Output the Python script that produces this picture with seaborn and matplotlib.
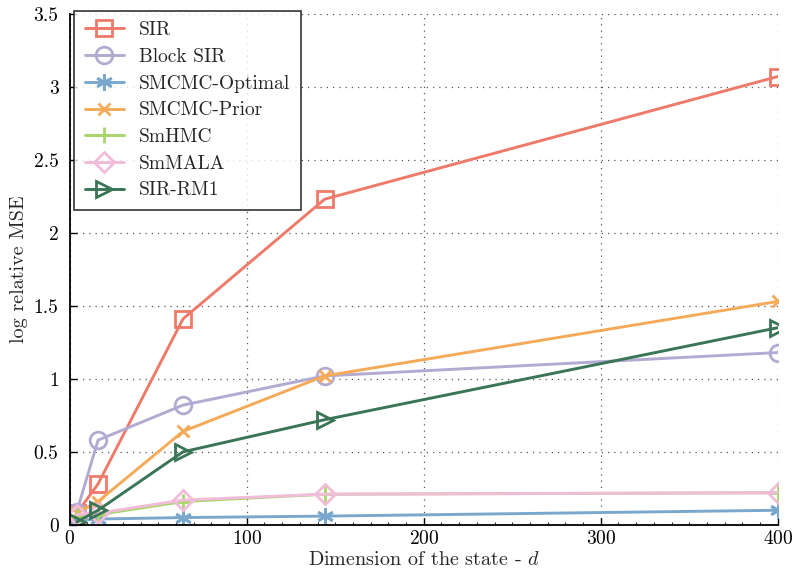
import matplotlib
matplotlib.use("Agg")
import matplotlib.pyplot as plt
import seaborn as sns
import numpy as np
from matplotlib.ticker import MultipleLocator

dims = [4, 16, 64, 144, 400]
sir = [0.08, 0.28, 1.41, 2.23, 3.07]
block_sir = [0.09, 0.58, 0.82, 1.02, 1.18]
smcmc_opt = [0.03, 0.04, 0.05, 0.06, 0.10]
smcmc_prior = [0.08, 0.16, 0.64, 1.02, 1.53]
smhmc = [0.06, 0.07, 0.16, 0.21, 0.22]
smmala = [0.07, 0.08, 0.17, 0.21, 0.22]
sir_rm1 = [0.02, 0.10, 0.50, 0.72, 1.35]

names = ["SIR", "Block SIR", "SMCMC-Optimal", "SMCMC-Prior", "SmHMC", "SmMALA", "SIR-RM1"]
series = [sir, block_sir, smcmc_opt, smcmc_prior, smhmc, smmala, sir_rm1]
colors = ["#f07a6a", "#b3aad2", "#7aa8cc", "#f5aa58", "#a8d46a", "#f0bcd9", "#3a7556"]
markers = ["s", "o", (6, 2, 0), "x", "+", "D", ">"]
msizes = [11, 12, 12, 9, 12, 10, 12]

sns.set_style("white")
plt.rcParams["font.family"] = ["cmr10", "DejaVu Serif"]
plt.rcParams["axes.formatter.use_mathtext"] = True
plt.rcParams["mathtext.fontset"] = "cm"

fig = plt.figure(figsize=(7.92, 5.73), dpi=100)
ax = fig.add_axes([0.088, 0.084, 0.894, 0.892])

for name, vals, c, m, ms in zip(names, series, colors, markers, msizes):
    sns.lineplot(x=dims, y=vals, ax=ax, color=c, marker=m, markersize=ms,
                 markerfacecolor="none", markeredgecolor=c, markeredgewidth=2,
                 linewidth=2.1, label=name)

ax.set_xlim(0, 400)
ax.set_ylim(0, 3.5)
ax.set_xticks([0, 100, 200, 300, 400])
ax.set_yticks([0, 0.5, 1, 1.5, 2, 2.5, 3, 3.5])
ax.set_yticklabels(["0", "0.5", "1", "1.5", "2", "2.5", "3", "3.5"])
ax.xaxis.set_minor_locator(MultipleLocator(10))
ax.tick_params(axis="both", which="major", direction="in", length=5, width=1,
               labelsize=14, colors="black")
ax.tick_params(axis="x", which="minor", direction="in", length=2.5, width=0.8, bottom=True)
ax.tick_params(axis="x", which="major", bottom=True, pad=4)
ax.tick_params(axis="y", which="major", left=True, pad=8)

ax.grid(True, which="major", linestyle=(0, (1, 4)), color="#555555", linewidth=0.9)
for s in ["top", "right"]:
    ax.spines[s].set_visible(False)
for s in ["left", "bottom"]:
    ax.spines[s].set_color("black")
    ax.spines[s].set_linewidth(1.3)

ax.set_xlabel("Dimension of the state - $d$", fontsize=14.5, labelpad=2)
ax.set_ylabel("log relative MSE", fontsize=14.5)

leg = ax.legend(loc="upper left", bbox_to_anchor=(0.006, 1.006), fontsize=14,
                frameon=True, fancybox=False, handlelength=2.0, borderpad=0.55,
                labelspacing=0.45, handletextpad=0.8, borderaxespad=0.0)
leg.get_frame().set_edgecolor("black")
leg.get_frame().set_linewidth(1.2)

fig.savefig("out.png", dpi=100)
